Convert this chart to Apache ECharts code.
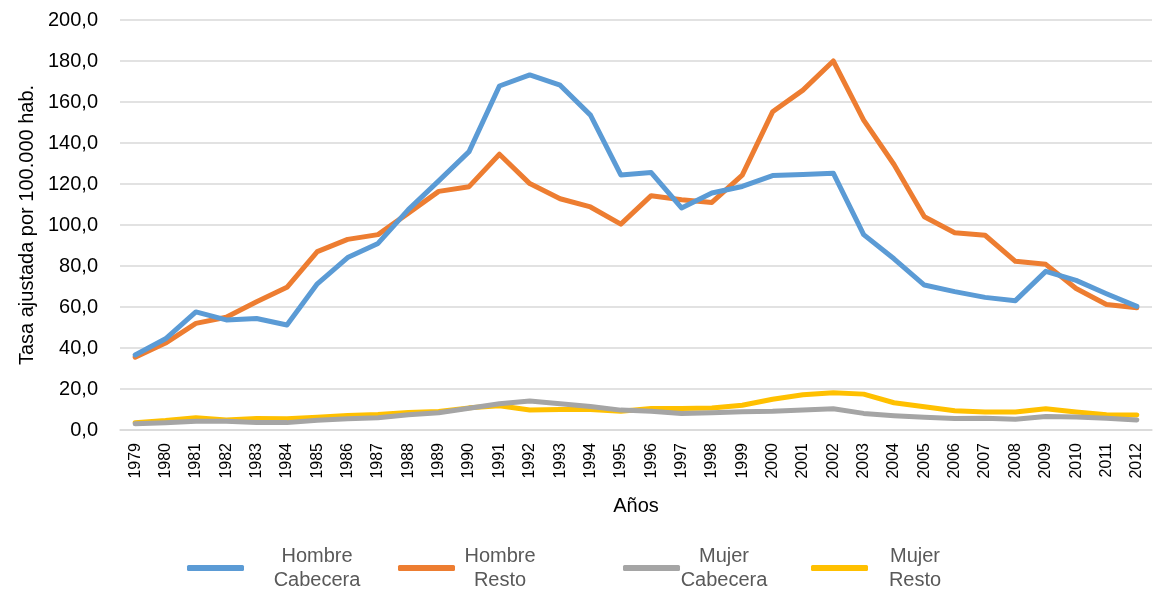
<!DOCTYPE html>
<html>
<head>
<meta charset="utf-8">
<script src="https://cdn.jsdelivr.net/npm/echarts@6/dist/echarts.min.js"></script>
<style>html,body{margin:0;padding:0;background:#fff}#c{width:1159px;height:594px}</style>
</head>
<body>
<div id="c"></div>
<script>
const years = ['1979','1980','1981','1982','1983','1984','1985','1986','1987','1988','1989','1990','1991','1992','1993','1994','1995','1996','1997','1998','1999','2000','2001','2002','2003','2004','2005','2006','2007','2008','2009','2010','2011','2012'];
const hombreCabecera = [36.6,44.5,57.6,53.7,54.4,51.2,71.3,84.1,91,107.5,121.5,135.8,167.8,173.2,168.2,153.6,124.4,125.6,108.3,115.6,118.8,124.1,124.6,125.3,95.3,83.5,70.7,67.5,64.7,63.1,77.4,73,66.5,60.3];
const hombreResto = [35.5,42.4,52,55,62.6,69.6,87,93,95.3,105.8,116.4,118.7,134.5,120.2,112.8,108.8,100.4,114.3,112.3,111,124.3,155.2,165.8,180,151.2,129.5,104,96.2,95,82.3,80.8,69,61.2,59.6];
const mujerCabecera = [3,3.5,4.3,4.3,3.6,3.6,4.8,5.5,6,7.4,8.4,10.6,12.8,14.2,12.8,11.5,9.7,9.2,8.1,8.4,8.9,9.1,9.8,10.4,8.1,7,6.2,5.6,5.7,5.3,6.6,6.3,5.7,4.9];
const mujerResto = [3.6,4.6,6,4.9,5.6,5.5,6.2,7.1,7.6,8.5,9,10.8,11.8,9.8,10,10,9.2,10.5,10.5,10.7,12.1,15,17.2,18.2,17.5,13.3,11.3,9.4,8.8,8.8,10.4,8.8,7.5,7.3];
const yTicks = {min:0, max:200, interval:20};

const names = ['Hombre\nCabecera','Hombre\nResto','Mujer\nCabecera','Mujer\nResto'];
const colors = ['#5B9BD5','#ED7D31','#A5A5A5','#FFC000'];
const dataSets = [hombreCabecera, hombreResto, mujerCabecera, mujerResto];
const legendLeft = [182, 393, 618, 806];
const legendTextW = [136, 80, 78, 84];

const chart = echarts.init(document.getElementById('c'), null, {renderer:'canvas'});
const FONT = 'Liberation Sans, Arial, sans-serif';
chart.setOption({
  animation:false,
  textStyle:{fontFamily:FONT},
  grid:{left:120, right:7, top:20, bottom:164, containLabel:false},
  legend: names.map((n,i)=>({
    data:[n], left:legendLeft[i], top:541, itemWidth:57, itemHeight:6, itemGap:0,
    icon:'roundRect',
    formatter: (s)=> s.split('\n').map(t=>'{a|'+t+'}').join('\n'),
    textStyle:{color:'#595959', fontSize:20, fontFamily:FONT,
      rich:{a:{width:legendTextW[i], align:'center', fontSize:20, lineHeight:24, color:'#595959', fontFamily:FONT}}}
  })),
  xAxis:{
    type:'category', data:years, boundaryGap:true,
    name:'Años', nameLocation:'middle', nameGap:66,
    nameTextStyle:{color:'#000', fontSize:20, fontFamily:FONT},
    axisLine:{show:true, lineStyle:{color:'#D9D9D9', width:1.5}},
    axisTick:{show:false},
    axisLabel:{rotate:90, color:'#000', fontSize:16, margin:13, interval:0, fontFamily:FONT}
  },
  yAxis:{
    type:'value', min:yTicks.min, max:yTicks.max, interval:yTicks.interval,
    name:'Tasa ajustada por 100.000 hab.', nameLocation:'middle', nameRotate:90, nameGap:82,
    nameTextStyle:{color:'#000', fontSize:20, fontFamily:FONT},
    axisLine:{show:false}, axisTick:{show:false},
    splitLine:{lineStyle:{color:'#D9D9D9', width:1.5}},
    axisLabel:{color:'#000', fontSize:20, margin:22, fontFamily:FONT,
      formatter:(v)=>v.toFixed(1).replace('.',',')}
  },
  series: names.map((n,i)=>({
    name:n, type:'line', data:dataSets[i], symbol:'none',
    lineStyle:{color:colors[i], width:5, cap:'round', join:'round'},
    itemStyle:{color:colors[i]},
    z: i<2 ? 3 - i : 5 - i
  }))
});
</script>
</body>
</html>
